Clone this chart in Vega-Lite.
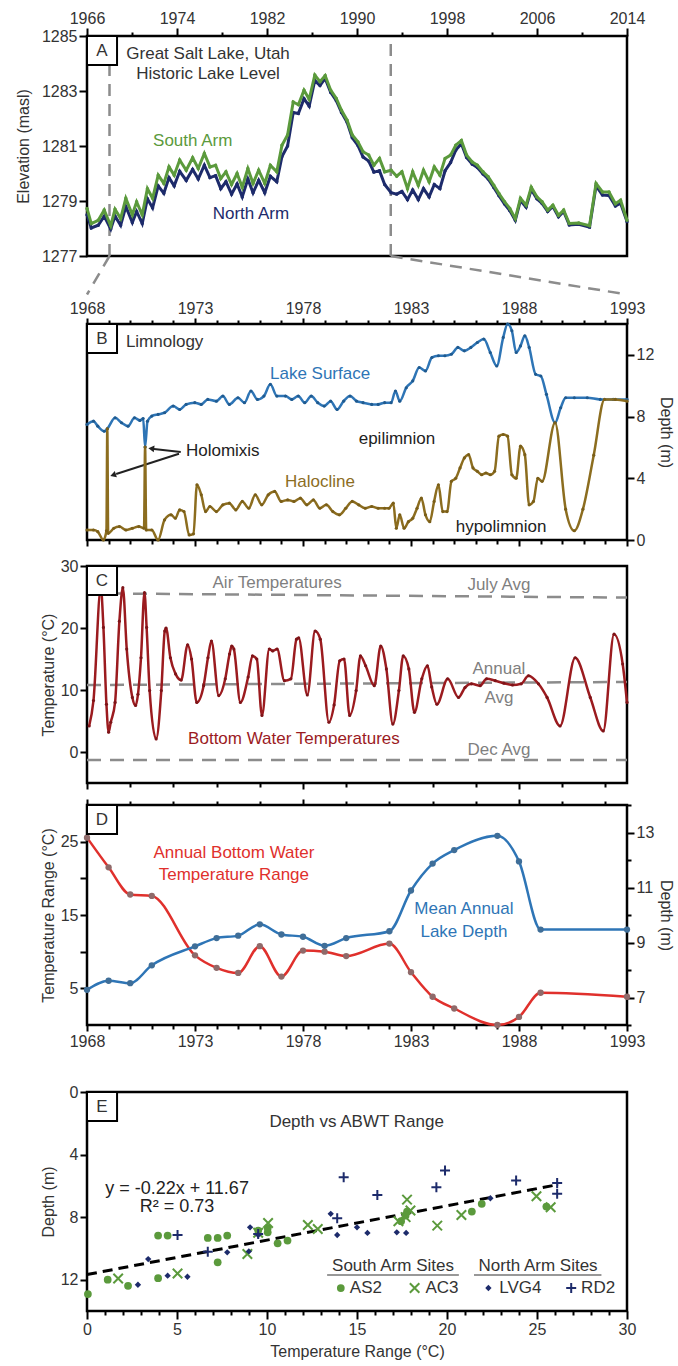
{
"$schema": "https://vega.github.io/schema/vega-lite/v6.json",
"padding": {"left": 14, "top": 8, "right": 2, "bottom": 2},
"background": "white",
"spacing": 0,
"config": {
  "font": "Liberation Sans",
  "view": {"stroke": "black", "strokeWidth": 2.5},
  "axis": {"domain": false, "grid": false, "labelFontSize": 16, "labelColor": "#333", "titleFontSize": 16, "titleFontWeight": "normal", "titleColor": "#333", "tickColor": "black", "tickWidth": 2, "labelOverlap": false, "labelFlush": false, "labelPadding": 2},
  "text": {"fontSize": 16}
},
"datasets": {
  "south": [
{"yr":1966.00,"elev":1278.73},{"yr":1966.38,"elev":1278.18},{"yr":1967.00,"elev":1278.30},{"yr":1967.53,"elev":1278.67},{"yr":1968.11,"elev":1278.10},{"yr":1968.49,"elev":1278.70},{"yr":1968.99,"elev":1278.36},{"yr":1969.45,"elev":1279.10},{"yr":1970.03,"elev":1278.50},{"yr":1970.41,"elev":1278.97},{"yr":1970.91,"elev":1278.50},{"yr":1971.37,"elev":1279.45},{"yr":1971.83,"elev":1279.10},{"yr":1972.33,"elev":1279.94},{"yr":1972.83,"elev":1279.64},{"yr":1973.29,"elev":1280.24},{"yr":1973.75,"elev":1279.94},{"yr":1974.24,"elev":1280.49},{"yr":1974.82,"elev":1280.12},{"yr":1975.39,"elev":1280.57},{"yr":1975.89,"elev":1280.18},{"yr":1976.43,"elev":1280.73},{"yr":1976.93,"elev":1280.24},{"yr":1977.43,"elev":1280.30},{"yr":1977.89,"elev":1279.82},{"yr":1978.35,"elev":1280.06},{"yr":1978.85,"elev":1279.60},{"yr":1979.34,"elev":1280.00},{"yr":1979.80,"elev":1279.50},{"yr":1980.30,"elev":1280.18},{"yr":1980.76,"elev":1279.64},{"yr":1981.26,"elev":1280.12},{"yr":1981.80,"elev":1279.64},{"yr":1982.30,"elev":1280.30},{"yr":1982.87,"elev":1280.06},{"yr":1983.33,"elev":1281.03},{"yr":1983.83,"elev":1281.40},{"yr":1984.33,"elev":1282.60},{"yr":1984.79,"elev":1282.50},{"yr":1985.29,"elev":1283.03},{"yr":1985.75,"elev":1282.70},{"yr":1986.25,"elev":1283.58},{"yr":1986.71,"elev":1283.34},{"yr":1987.17,"elev":1283.56},{"yr":1987.66,"elev":1283.03},{"yr":1988.16,"elev":1282.73},{"yr":1988.62,"elev":1282.30},{"yr":1989.12,"elev":1281.94},{"yr":1989.58,"elev":1281.40},{"yr":1990.08,"elev":1281.15},{"yr":1990.54,"elev":1280.79},{"yr":1991.04,"elev":1280.67},{"yr":1991.50,"elev":1280.30},{"yr":1992.00,"elev":1280.55},{"yr":1992.46,"elev":1280.06},{"yr":1993.03,"elev":1280.12},{"yr":1993.53,"elev":1279.90},{"yr":1993.99,"elev":1280.06},{"yr":1994.49,"elev":1279.45},{"yr":1994.95,"elev":1280.06},{"yr":1995.45,"elev":1279.57},{"yr":1995.91,"elev":1280.12},{"yr":1996.41,"elev":1279.70},{"yr":1996.87,"elev":1280.24},{"yr":1997.37,"elev":1279.94},{"yr":1997.83,"elev":1280.55},{"yr":1998.32,"elev":1280.67},{"yr":1998.78,"elev":1281.03},{"yr":1999.28,"elev":1281.20},{"yr":1999.74,"elev":1280.67},{"yr":2000.24,"elev":1280.42},{"yr":2000.70,"elev":1280.30},{"yr":2001.20,"elev":1280.06},{"yr":2001.66,"elev":1279.88},{"yr":2002.16,"elev":1279.57},{"yr":2002.62,"elev":1279.27},{"yr":2003.12,"elev":1278.97},{"yr":2003.58,"elev":1278.73},{"yr":2004.07,"elev":1278.36},{"yr":2004.53,"elev":1279.10},{"yr":2005.03,"elev":1278.85},{"yr":2005.49,"elev":1279.50},{"yr":2005.99,"elev":1279.15},{"yr":2006.45,"elev":1278.97},{"yr":2006.95,"elev":1278.67},{"yr":2007.41,"elev":1278.85},{"yr":2007.91,"elev":1278.48},{"yr":2008.37,"elev":1278.67},{"yr":2008.87,"elev":1278.18},{"yr":2009.71,"elev":1278.20},{"yr":2010.67,"elev":1278.10},{"yr":2011.25,"elev":1279.64},{"yr":2011.82,"elev":1279.33},{"yr":2012.40,"elev":1279.33},{"yr":2012.97,"elev":1278.90},{"yr":2013.43,"elev":1279.03},{"yr":2014.00,"elev":1278.30}
  ],
  "north": [
{"yr":1966.00,"elev":1278.50},{"yr":1966.38,"elev":1278.02},{"yr":1967.00,"elev":1278.12},{"yr":1967.53,"elev":1278.45},{"yr":1968.11,"elev":1277.98},{"yr":1968.49,"elev":1278.45},{"yr":1968.99,"elev":1278.12},{"yr":1969.45,"elev":1278.80},{"yr":1970.03,"elev":1278.22},{"yr":1970.41,"elev":1278.62},{"yr":1970.91,"elev":1278.18},{"yr":1971.37,"elev":1279.08},{"yr":1971.83,"elev":1278.75},{"yr":1972.33,"elev":1279.55},{"yr":1972.83,"elev":1279.28},{"yr":1973.29,"elev":1279.85},{"yr":1973.75,"elev":1279.55},{"yr":1974.24,"elev":1280.08},{"yr":1974.82,"elev":1279.75},{"yr":1975.39,"elev":1280.15},{"yr":1975.89,"elev":1279.80},{"yr":1976.43,"elev":1280.30},{"yr":1976.93,"elev":1279.85},{"yr":1977.43,"elev":1279.92},{"yr":1977.89,"elev":1279.45},{"yr":1978.35,"elev":1279.70},{"yr":1978.85,"elev":1279.25},{"yr":1979.34,"elev":1279.62},{"yr":1979.80,"elev":1279.15},{"yr":1980.30,"elev":1279.80},{"yr":1980.76,"elev":1279.30},{"yr":1981.26,"elev":1279.75},{"yr":1981.80,"elev":1279.30},{"yr":1982.30,"elev":1279.90},{"yr":1982.87,"elev":1279.70},{"yr":1983.33,"elev":1280.62},{"yr":1983.83,"elev":1281.00},{"yr":1984.33,"elev":1282.22},{"yr":1984.79,"elev":1282.18},{"yr":1985.29,"elev":1282.72},{"yr":1985.75,"elev":1282.45},{"yr":1986.25,"elev":1283.38},{"yr":1986.71,"elev":1283.20},{"yr":1987.17,"elev":1283.46},{"yr":1987.66,"elev":1282.95},{"yr":1988.16,"elev":1282.65},{"yr":1988.62,"elev":1282.22},{"yr":1989.12,"elev":1281.86},{"yr":1989.58,"elev":1281.30},{"yr":1990.08,"elev":1281.02},{"yr":1990.54,"elev":1280.60},{"yr":1991.04,"elev":1280.45},{"yr":1991.50,"elev":1280.05},{"yr":1992.00,"elev":1280.10},{"yr":1992.46,"elev":1279.60},{"yr":1993.03,"elev":1279.30},{"yr":1993.53,"elev":1279.25},{"yr":1993.99,"elev":1279.35},{"yr":1994.49,"elev":1279.05},{"yr":1994.95,"elev":1279.40},{"yr":1995.45,"elev":1279.05},{"yr":1995.91,"elev":1279.45},{"yr":1996.41,"elev":1279.15},{"yr":1996.87,"elev":1279.60},{"yr":1997.37,"elev":1279.45},{"yr":1997.83,"elev":1280.10},{"yr":1998.32,"elev":1280.40},{"yr":1998.78,"elev":1280.85},{"yr":1999.28,"elev":1281.08},{"yr":1999.74,"elev":1280.58},{"yr":2000.24,"elev":1280.34},{"yr":2000.70,"elev":1280.22},{"yr":2001.20,"elev":1279.98},{"yr":2001.66,"elev":1279.80},{"yr":2002.16,"elev":1279.49},{"yr":2002.62,"elev":1279.19},{"yr":2003.12,"elev":1278.89},{"yr":2003.58,"elev":1278.65},{"yr":2004.07,"elev":1278.30},{"yr":2004.53,"elev":1279.02},{"yr":2005.03,"elev":1278.78},{"yr":2005.49,"elev":1279.42},{"yr":2005.99,"elev":1279.08},{"yr":2006.45,"elev":1278.91},{"yr":2006.95,"elev":1278.62},{"yr":2007.41,"elev":1278.80},{"yr":2007.91,"elev":1278.43},{"yr":2008.37,"elev":1278.62},{"yr":2008.87,"elev":1278.13},{"yr":2009.71,"elev":1278.15},{"yr":2010.67,"elev":1278.05},{"yr":2011.25,"elev":1279.55},{"yr":2011.82,"elev":1279.22},{"yr":2012.40,"elev":1279.20},{"yr":2012.97,"elev":1278.82},{"yr":2013.43,"elev":1278.92},{"yr":2014.00,"elev":1278.25}
  ],
  "surface": [
{"yr":1968.00,"depth":7.49},{"yr":1968.30,"depth":7.70},{"yr":1968.50,"depth":7.38},{"yr":1968.80,"depth":7.05},{"yr":1968.94,"depth":7.21},{"yr":1969.30,"depth":7.92},{"yr":1969.60,"depth":7.60},{"yr":1969.90,"depth":7.38},{"yr":1970.20,"depth":7.92},{"yr":1970.45,"depth":7.75},{"yr":1970.60,"depth":7.87},{"yr":1970.69,"depth":6.03},{"yr":1970.80,"depth":7.70},{"yr":1971.00,"depth":8.03},{"yr":1971.29,"depth":8.14},{"yr":1971.59,"depth":8.25},{"yr":1971.99,"depth":8.68},{"yr":1972.29,"depth":8.46},{"yr":1972.59,"depth":8.79},{"yr":1972.99,"depth":8.90},{"yr":1973.29,"depth":8.79},{"yr":1973.59,"depth":9.11},{"yr":1973.99,"depth":9.00},{"yr":1974.29,"depth":9.33},{"yr":1974.59,"depth":8.79},{"yr":1974.99,"depth":9.22},{"yr":1975.29,"depth":8.90},{"yr":1975.59,"depth":9.66},{"yr":1975.89,"depth":9.11},{"yr":1976.19,"depth":9.33},{"yr":1976.49,"depth":10.09},{"yr":1976.79,"depth":9.33},{"yr":1977.19,"depth":9.33},{"yr":1977.48,"depth":9.11},{"yr":1977.78,"depth":9.33},{"yr":1978.08,"depth":8.90},{"yr":1978.38,"depth":9.33},{"yr":1978.68,"depth":8.90},{"yr":1978.98,"depth":8.68},{"yr":1979.28,"depth":9.00},{"yr":1979.58,"depth":8.46},{"yr":1979.88,"depth":9.00},{"yr":1980.18,"depth":9.33},{"yr":1980.48,"depth":9.00},{"yr":1980.78,"depth":8.90},{"yr":1981.18,"depth":8.79},{"yr":1981.48,"depth":8.79},{"yr":1981.78,"depth":8.90},{"yr":1982.08,"depth":8.90},{"yr":1982.28,"depth":9.66},{"yr":1982.48,"depth":9.00},{"yr":1982.78,"depth":9.87},{"yr":1983.08,"depth":10.31},{"yr":1983.38,"depth":11.18},{"yr":1983.67,"depth":10.96},{"yr":1983.97,"depth":11.83},{"yr":1984.27,"depth":11.94},{"yr":1984.57,"depth":11.94},{"yr":1984.87,"depth":12.04},{"yr":1985.17,"depth":12.48},{"yr":1985.47,"depth":12.26},{"yr":1985.77,"depth":12.48},{"yr":1986.07,"depth":12.80},{"yr":1986.37,"depth":13.02},{"yr":1986.67,"depth":12.15},{"yr":1986.97,"depth":11.28},{"yr":1987.27,"depth":13.13},{"yr":1987.47,"depth":14.00},{"yr":1987.67,"depth":13.56},{"yr":1987.87,"depth":12.15},{"yr":1988.07,"depth":12.58},{"yr":1988.27,"depth":13.24},{"yr":1988.47,"depth":12.48},{"yr":1988.77,"depth":10.74},{"yr":1989.01,"depth":10.63},{"yr":1989.27,"depth":9.44},{"yr":1989.67,"depth":7.60},{"yr":1989.93,"depth":8.57},{"yr":1990.16,"depth":9.22},{"yr":1990.56,"depth":9.22},{"yr":1991.16,"depth":9.22},{"yr":1991.76,"depth":9.11},{"yr":1992.36,"depth":9.11},{"yr":1993.00,"depth":9.11}
  ],
  "halocline": [
{"yr":1968.00,"depth":0.65},{"yr":1968.30,"depth":0.65},{"yr":1968.50,"depth":0.54},{"yr":1968.76,"depth":0.0},{"yr":1968.90,"depth":0.6},{"yr":1968.94,"depth":7.21},{"yr":1968.98,"depth":0.43},{"yr":1969.24,"depth":0.76},{"yr":1969.50,"depth":0.87},{"yr":1969.80,"depth":0.65},{"yr":1970.10,"depth":0.76},{"yr":1970.40,"depth":0.87},{"yr":1970.64,"depth":0.76},{"yr":1970.69,"depth":6.03},{"yr":1970.74,"depth":0.65},{"yr":1971.00,"depth":0.65},{"yr":1971.29,"depth":0.0},{"yr":1971.59,"depth":1.30},{"yr":1971.89,"depth":1.63},{"yr":1972.09,"depth":1.41},{"yr":1972.29,"depth":1.95},{"yr":1972.49,"depth":1.84},{"yr":1972.73,"depth":0.33},{"yr":1972.93,"depth":0.40},{"yr":1973.09,"depth":3.58},{"yr":1973.29,"depth":2.93},{"yr":1973.49,"depth":1.84},{"yr":1973.69,"depth":2.17},{"yr":1973.99,"depth":1.84},{"yr":1974.29,"depth":2.28},{"yr":1974.59,"depth":2.39},{"yr":1974.89,"depth":1.95},{"yr":1975.19,"depth":2.50},{"yr":1975.49,"depth":2.06},{"yr":1975.79,"depth":2.93},{"yr":1976.09,"depth":2.28},{"yr":1976.39,"depth":2.93},{"yr":1976.69,"depth":3.15},{"yr":1976.99,"depth":2.50},{"yr":1977.29,"depth":2.60},{"yr":1977.58,"depth":2.50},{"yr":1977.88,"depth":2.71},{"yr":1978.18,"depth":2.28},{"yr":1978.48,"depth":2.60},{"yr":1978.78,"depth":2.06},{"yr":1979.08,"depth":2.28},{"yr":1979.38,"depth":1.84},{"yr":1979.68,"depth":1.63},{"yr":1979.98,"depth":2.06},{"yr":1980.28,"depth":2.50},{"yr":1980.58,"depth":2.28},{"yr":1980.88,"depth":2.06},{"yr":1981.18,"depth":2.17},{"yr":1981.48,"depth":2.06},{"yr":1981.78,"depth":2.06},{"yr":1981.98,"depth":2.06},{"yr":1982.18,"depth":2.39},{"yr":1982.32,"depth":0.76},{"yr":1982.48,"depth":1.63},{"yr":1982.68,"depth":0.76},{"yr":1982.88,"depth":1.19},{"yr":1983.08,"depth":1.41},{"yr":1983.28,"depth":2.06},{"yr":1983.48,"depth":2.71},{"yr":1983.67,"depth":1.63},{"yr":1983.87,"depth":1.19},{"yr":1984.07,"depth":2.50},{"yr":1984.27,"depth":3.58},{"yr":1984.47,"depth":1.84},{"yr":1984.67,"depth":1.84},{"yr":1984.87,"depth":3.80},{"yr":1985.07,"depth":4.00},{"yr":1985.27,"depth":4.67},{"yr":1985.47,"depth":5.32},{"yr":1985.67,"depth":5.53},{"yr":1985.87,"depth":4.67},{"yr":1986.07,"depth":4.45},{"yr":1986.27,"depth":4.23},{"yr":1986.47,"depth":4.34},{"yr":1986.67,"depth":4.23},{"yr":1986.87,"depth":4.45},{"yr":1987.07,"depth":6.73},{"yr":1987.27,"depth":6.84},{"yr":1987.47,"depth":6.73},{"yr":1987.67,"depth":4.23},{"yr":1987.87,"depth":4.00},{"yr":1988.07,"depth":6.08},{"yr":1988.27,"depth":5.53},{"yr":1988.47,"depth":2.28},{"yr":1988.67,"depth":2.50},{"yr":1988.87,"depth":4.00},{"yr":1989.07,"depth":3.80},{"yr":1989.67,"depth":7.60},{"yr":1990.16,"depth":2.0},{"yr":1990.56,"depth":0.60},{"yr":1990.96,"depth":2.0},{"yr":1991.46,"depth":5.5},{"yr":1991.96,"depth":9.11},{"yr":1992.46,"depth":9.11},{"yr":1993.00,"depth":9.00}
  ],
  "bwt": [
{"yr":1968.10,"temp":4.2},{"yr":1968.30,"temp":8.3},{"yr":1968.64,"temp":26.5},{"yr":1968.76,"temp":20.1},{"yr":1968.90,"temp":7.7},{"yr":1969.00,"temp":3.2},{"yr":1969.10,"temp":4.8},{"yr":1969.30,"temp":8.0},{"yr":1969.50,"temp":21.1},{"yr":1969.66,"temp":26.5},{"yr":1969.84,"temp":16.6},{"yr":1970.10,"temp":8.8},{"yr":1970.25,"temp":7.5},{"yr":1970.36,"temp":9.3},{"yr":1970.50,"temp":15.2},{"yr":1970.66,"temp":25.7},{"yr":1970.76,"temp":20.1},{"yr":1970.90,"temp":9.9},{"yr":1971.20,"temp":2.1},{"yr":1971.44,"temp":9.9},{"yr":1971.60,"temp":19.5},{"yr":1971.66,"temp":20.0},{"yr":1971.86,"temp":15.2},{"yr":1972.10,"temp":12.6},{"yr":1972.36,"temp":11.6},{"yr":1972.66,"temp":17.3},{"yr":1972.84,"temp":15.0},{"yr":1973.08,"temp":8.0},{"yr":1973.40,"temp":10.7},{"yr":1973.60,"temp":15.2},{"yr":1973.76,"temp":17.9},{"yr":1974.10,"temp":9.1},{"yr":1974.40,"temp":11.8},{"yr":1974.60,"temp":15.8},{"yr":1974.70,"temp":17.1},{"yr":1974.80,"temp":16.6},{"yr":1975.10,"temp":8.0},{"yr":1975.46,"temp":12.1},{"yr":1975.66,"temp":15.5},{"yr":1975.86,"temp":15.0},{"yr":1976.10,"temp":5.9},{"yr":1976.44,"temp":16.6},{"yr":1976.60,"temp":16.3},{"yr":1976.80,"temp":16.6},{"yr":1977.14,"temp":11.5},{"yr":1977.44,"temp":11.8},{"yr":1977.70,"temp":18.2},{"yr":1977.80,"temp":18.4},{"yr":1978.20,"temp":9.2},{"yr":1978.56,"temp":19.5},{"yr":1978.80,"temp":18.2},{"yr":1979.20,"temp":4.8},{"yr":1979.44,"temp":7.6},{"yr":1979.70,"temp":14.7},{"yr":1979.90,"temp":15.0},{"yr":1980.16,"temp":5.9},{"yr":1980.46,"temp":9.9},{"yr":1980.66,"temp":15.5},{"yr":1980.90,"temp":13.9},{"yr":1981.30,"temp":10.7},{"yr":1981.60,"temp":17.1},{"yr":1981.86,"temp":13.4},{"yr":1982.16,"temp":4.5},{"yr":1982.44,"temp":9.9},{"yr":1982.64,"temp":15.5},{"yr":1982.90,"temp":13.4},{"yr":1983.16,"temp":6.4},{"yr":1983.50,"temp":11.8},{"yr":1983.76,"temp":13.9},{"yr":1983.96,"temp":10.5},{"yr":1984.20,"temp":7.7},{"yr":1984.70,"temp":11.8},{"yr":1985.20,"temp":8.8},{"yr":1985.50,"temp":10.4},{"yr":1985.80,"temp":11.0},{"yr":1986.20,"temp":10.7},{"yr":1986.50,"temp":11.8},{"yr":1986.90,"temp":11.5},{"yr":1987.30,"temp":11.1},{"yr":1987.70,"temp":10.8},{"yr":1988.10,"temp":11.0},{"yr":1988.44,"temp":12.3},{"yr":1988.90,"temp":11.0},{"yr":1989.30,"temp":8.8},{"yr":1989.90,"temp":4.2},{"yr":1990.60,"temp":15.2},{"yr":1991.30,"temp":8.8},{"yr":1991.90,"temp":3.4},{"yr":1992.40,"temp":19.0},{"yr":1992.80,"temp":14.2},{"yr":1993.00,"temp":8.0}
  ],
  "airavg": [
{"series":"July Avg","yr":1968,"temp":25.6},{"series":"July Avg","yr":1993,"temp":24.9},{"series":"Annual Avg","yr":1968,"temp":10.8},{"series":"Annual Avg","yr":1993,"temp":11.3},{"series":"Dec Avg","yr":1968,"temp":-1.3},{"series":"Dec Avg","yr":1993,"temp":-1.3}
  ],
  "abwt": [
{"yr":1968,"range":25.55},{"yr":1969,"range":21.5},{"yr":1970,"range":17.8},{"yr":1971,"range":17.6},{"yr":1973,"range":9.5},{"yr":1974,"range":7.8},{"yr":1975,"range":7.1},{"yr":1976,"range":10.75},{"yr":1977,"range":6.6},{"yr":1978,"range":10.15},{"yr":1979,"range":10.0},{"yr":1980,"range":9.4},{"yr":1982,"range":11.1},{"yr":1983,"range":7.2},{"yr":1984,"range":3.85},{"yr":1985,"range":2.25},{"yr":1987,"range":0.0},{"yr":1988,"range":1.1},{"yr":1989,"range":4.4},{"yr":1993,"range":3.85}
  ],
  "meandepth": [
{"yr":1968,"depth":7.28},{"yr":1969,"depth":7.61},{"yr":1970,"depth":7.52},{"yr":1971,"depth":8.17},{"yr":1973,"depth":8.86},{"yr":1974,"depth":9.16},{"yr":1975,"depth":9.25},{"yr":1976,"depth":9.66},{"yr":1977,"depth":9.29},{"yr":1978,"depth":9.21},{"yr":1979,"depth":8.88},{"yr":1980,"depth":9.16},{"yr":1982,"depth":9.41},{"yr":1983,"depth":10.89},{"yr":1984,"depth":11.87},{"yr":1985,"depth":12.36},{"yr":1987,"depth":12.88},{"yr":1988,"depth":11.95},{"yr":1989,"depth":9.47},{"yr":1993,"depth":9.47}
  ],
  "sites": [
{"site":"AS2","temp":0.05,"depth":12.92},{"site":"AS2","temp":1.15,"depth":12.0},{"site":"AS2","temp":2.28,"depth":12.39},{"site":"AS2","temp":3.95,"depth":9.18},{"site":"AS2","temp":4.48,"depth":9.18},{"site":"AS2","temp":3.95,"depth":11.9},{"site":"AS2","temp":6.71,"depth":9.33},{"site":"AS2","temp":7.26,"depth":9.33},{"site":"AS2","temp":7.79,"depth":9.18},{"site":"AS2","temp":7.26,"depth":10.89},{"site":"AS2","temp":9.51,"depth":8.86},{"site":"AS2","temp":10.04,"depth":8.97},{"site":"AS2","temp":10.59,"depth":9.67},{"site":"AS2","temp":11.14,"depth":9.5},{"site":"AS2","temp":17.45,"depth":8.26},{"site":"AS2","temp":17.78,"depth":7.64},{"site":"AS2","temp":21.38,"depth":7.64},{"site":"AS2","temp":21.93,"depth":7.15},{"site":"AS2","temp":25.52,"depth":7.32},{"site":"AS2","temp":10.04,"depth":8.7},{"site":"AS2","temp":17.7,"depth":7.9},
{"site":"AC3","temp":1.73,"depth":11.92},{"site":"AC3","temp":5.03,"depth":11.6},{"site":"AC3","temp":8.91,"depth":10.36},{"site":"AC3","temp":10.06,"depth":8.37},{"site":"AC3","temp":12.27,"depth":8.5},{"site":"AC3","temp":12.82,"depth":8.76},{"site":"AC3","temp":17.3,"depth":8.26},{"site":"AC3","temp":17.78,"depth":6.88},{"site":"AC3","temp":17.97,"depth":7.58},{"site":"AC3","temp":19.46,"depth":8.54},{"site":"AC3","temp":20.8,"depth":7.86},{"site":"AC3","temp":24.97,"depth":6.66},{"site":"AC3","temp":25.76,"depth":7.37},{"site":"AC3","temp":9.51,"depth":9.0},{"site":"AC3","temp":17.7,"depth":8.0},
{"site":"LVG4","temp":2.83,"depth":12.32},{"site":"LVG4","temp":3.4,"depth":10.68},{"site":"LVG4","temp":4.48,"depth":11.74},{"site":"LVG4","temp":5.58,"depth":11.81},{"site":"LVG4","temp":7.79,"depth":10.25},{"site":"LVG4","temp":9.06,"depth":8.65},{"site":"LVG4","temp":8.99,"depth":10.19},{"site":"LVG4","temp":9.51,"depth":9.14},{"site":"LVG4","temp":13.54,"depth":7.79},{"site":"LVG4","temp":13.9,"depth":9.14},{"site":"LVG4","temp":15.0,"depth":8.65},{"site":"LVG4","temp":15.58,"depth":9.01},{"site":"LVG4","temp":17.21,"depth":8.97},{"site":"LVG4","temp":17.73,"depth":9.01},{"site":"LVG4","temp":22.41,"depth":6.79},
{"site":"RD2","temp":5.03,"depth":9.14},{"site":"RD2","temp":6.71,"depth":10.21},{"site":"RD2","temp":9.51,"depth":9.08},{"site":"RD2","temp":13.9,"depth":8.07},{"site":"RD2","temp":14.26,"depth":5.45},{"site":"RD2","temp":16.13,"depth":6.58},{"site":"RD2","temp":19.41,"depth":6.09},{"site":"RD2","temp":19.89,"depth":5.02},{"site":"RD2","temp":23.84,"depth":5.66},{"site":"RD2","temp":26.12,"depth":5.81},{"site":"RD2","temp":26.12,"depth":6.51}
  ]
},
"vconcat": [
{
  "width": 540, "height": 220,
  "layer": [
    {"data": {"values": [{}]}, "mark": {"type": "rule", "color": "#8c8c8c", "strokeWidth": 2.5, "strokeDash": [12, 8]},
     "encoding": {"x": {"datum": 1968}, "y": {"datum": 1277}, "y2": {"datum": 1285}}},
    {"data": {"values": [{}]}, "mark": {"type": "rule", "color": "#8c8c8c", "strokeWidth": 2.5, "strokeDash": [12, 8]},
     "encoding": {"x": {"datum": 1993}, "y": {"datum": 1277}, "y2": {"datum": 1285}}},
    {"data": {"values": [{}]}, "mark": {"type": "rule", "color": "#8c8c8c", "strokeWidth": 2.5, "strokeDash": [12, 8]},
     "encoding": {"x": {"datum": 1968}, "x2": {"datum": 1966}, "y": {"datum": 1277}, "y2": {"datum": 1275.6}}},
    {"data": {"values": [{}]}, "mark": {"type": "rule", "color": "#8c8c8c", "strokeWidth": 2.5, "strokeDash": [12, 8]},
     "encoding": {"x": {"datum": 1993}, "x2": {"datum": 2014}, "y": {"datum": 1277}, "y2": {"datum": 1275.6}}},
    {"data": {"name": "north"}, "mark": {"type": "line", "color": "#1d2b6b", "strokeWidth": 3, "point": {"filled": true, "size": 12, "color": "#1d2b6b"}},
     "encoding": {
       "x": {"field": "yr", "type": "quantitative", "scale": {"domain": [1966, 2014], "nice": false, "zero": false},
             "axis": {"orient": "top", "title": null, "format": "d", "labelOverlap": false, "values": [1966,1967,1968,1969,1970,1971,1972,1973,1974,1975,1976,1977,1978,1979,1980,1981,1982,1983,1984,1985,1986,1987,1988,1989,1990,1991,1992,1993,1994,1995,1996,1997,1998,1999,2000,2001,2002,2003,2004,2005,2006,2007,2008,2009,2010,2011,2012,2013,2014],
                      "labelExpr": "datum.value % 8 == 6 ? datum.label : ''",
                      "tickSize": {"condition": {"test": "datum.value % 8 == 6", "value": 8}, "value": 4}}},
       "y": {"field": "elev", "type": "quantitative", "scale": {"domain": [1277, 1285], "nice": false, "zero": false},
             "axis": {"orient": "left", "title": "Elevation (masl)", "titlePadding": 10, "format": "d", "labelOverlap": false, "values": [1277,1278,1279,1280,1281,1282,1283,1284,1285],
                      "labelExpr": "datum.value % 2 == 1 ? datum.label : ''",
                      "tickSize": {"condition": {"test": "datum.value % 2 == 1", "value": 8}, "value": 5}}}
     }},
    {"data": {"name": "south"}, "mark": {"type": "line", "color": "#5b9a3c", "strokeWidth": 3, "point": {"filled": true, "size": 12, "color": "#5b9a3c"}},
     "encoding": {"x": {"field": "yr", "type": "quantitative"}, "y": {"field": "elev", "type": "quantitative"}}},
    {"data": {"values": [{}]}, "mark": {"type": "rect", "fill": "white", "stroke": "black", "strokeWidth": 2},
     "encoding": {"x": {"datum": 1966}, "x2": {"datum": 1968.67}, "y": {"datum": 1285}, "y2": {"datum": 1283.95}}},
    {"data": {"values": [{}]}, "mark": {"type": "text", "color": "#333", "fontSize": 17},
     "encoding": {"x": {"datum": 1967.33}, "y": {"datum": 1284.47}, "text": {"value": "A"}}},
    {"data": {"values": [{}]}, "mark": {"type": "text", "color": "#333", "fontSize": 17},
     "encoding": {"x": {"datum": 1976.76}, "y": {"datum": 1284.35}, "text": {"value": "Great Salt Lake, Utah"}}},
    {"data": {"values": [{}]}, "mark": {"type": "text", "color": "#333", "fontSize": 17},
     "encoding": {"x": {"datum": 1976.76}, "y": {"datum": 1283.62}, "text": {"value": "Historic Lake Level"}}},
    {"data": {"values": [{}]}, "mark": {"type": "text", "color": "#5b9a3c", "fontSize": 17},
     "encoding": {"x": {"datum": 1975.4}, "y": {"datum": 1281.18}, "text": {"value": "South Arm"}}},
    {"data": {"values": [{}]}, "mark": {"type": "text", "color": "#1d2b6b", "fontSize": 17},
     "encoding": {"x": {"datum": 1980.57}, "y": {"datum": 1278.53}, "text": {"value": "North Arm"}}}
  ]
},
{
  "width": 540, "height": 216,
  "resolve": {"axis": {"x": "independent"}},
  "layer": [
    {"layer": [
      {"data": {"name": "surface"}, "mark": {"type": "line", "color": "#2e75b6", "strokeWidth": 2.5, "interpolate": "monotone", "point": {"filled": true, "size": 10, "color": "#1f5a8f"}},
       "encoding": {
         "x": {"field": "yr", "type": "quantitative", "scale": {"domain": [1968, 1993], "nice": false, "zero": false},
               "axis": {"orient": "top", "title": null, "format": "d", "labelPadding": 2, "labelOverlap": false, "values": [1968,1973,1978,1983,1988,1993], "tickSize": 6}},
         "y": {"field": "depth", "type": "quantitative", "scale": {"domain": [0, 14], "nice": false, "zero": false},
               "axis": {"orient": "right", "title": "Depth (m)", "titlePadding": 4, "labelOverlap": false, "values": [0,1,2,3,4,5,6,7,8,9,10,11,12,13,14],
                        "labelExpr": "datum.value % 4 == 0 ? datum.label : ''",
                        "tickSize": {"condition": {"test": "datum.value % 4 == 0", "value": 7}, "value": 4}}}
       }},
      {"data": {"values": [{}]}, "mark": {"type": "rect", "fill": "white", "stroke": "black", "strokeWidth": 2},
       "encoding": {"x": {"datum": 1968}, "x2": {"datum": 1969.39}, "y": {"datum": 14}, "y2": {"datum": 12.12}}},
      {"data": {"values": [{}]}, "mark": {"type": "text", "color": "#333", "fontSize": 17},
       "encoding": {"x": {"datum": 1968.69}, "y": {"datum": 13.06}, "text": {"value": "B"}}},
      {"data": {"values": [{}]}, "mark": {"type": "text", "color": "#333", "fontSize": 17, "align": "left"},
       "encoding": {"x": {"datum": 1969.8}, "y": {"datum": 12.83}, "text": {"value": "Limnology"}}},
      {"data": {"values": [{}]}, "mark": {"type": "text", "color": "#2e75b6", "fontSize": 17},
       "encoding": {"x": {"datum": 1978.79}, "y": {"datum": 10.76}, "text": {"value": "Lake Surface"}}},
      {"data": {"values": [{}]}, "mark": {"type": "text", "color": "#222", "fontSize": 17},
       "encoding": {"x": {"datum": 1982.35}, "y": {"datum": 6.55}, "text": {"value": "epilimnion"}}},
      {"data": {"values": [{}]}, "mark": {"type": "text", "color": "#222", "fontSize": 17, "align": "left"},
       "encoding": {"x": {"datum": 1972.58}, "y": {"datum": 5.77}, "text": {"value": "Holomixis"}}},
      {"data": {"values": [{}]}, "mark": {"type": "text", "color": "#8c6d1f", "fontSize": 17},
       "encoding": {"x": {"datum": 1978.79}, "y": {"datum": 3.76}, "text": {"value": "Halocline"}}},
      {"data": {"values": [{}]}, "mark": {"type": "text", "color": "#222", "fontSize": 17},
       "encoding": {"x": {"datum": 1987.17}, "y": {"datum": 0.84}, "text": {"value": "hypolimnion"}}},
      {"data": {"values": [{}]}, "mark": {"type": "rule", "color": "#222", "strokeWidth": 2},
       "encoding": {"x": {"datum": 1972.34}, "x2": {"datum": 1971.1}, "y": {"datum": 5.70}, "y2": {"datum": 5.9}}},
      {"data": {"values": [{}]}, "mark": {"type": "rule", "color": "#222", "strokeWidth": 2},
       "encoding": {"x": {"datum": 1972.26}, "x2": {"datum": 1969.35}, "y": {"datum": 5.59}, "y2": {"datum": 4.28}}},
      {"data": {"values": [{}]}, "mark": {"type": "point", "shape": "triangle", "filled": true, "color": "#222", "size": 45, "angle": 276.6, "opacity": 1},
       "encoding": {"x": {"datum": 1971.02}, "y": {"datum": 5.92}}},
      {"data": {"values": [{}]}, "mark": {"type": "point", "shape": "triangle", "filled": true, "color": "#222", "size": 45, "angle": 252.1, "opacity": 1},
       "encoding": {"x": {"datum": 1969.25}, "y": {"datum": 4.23}}}
    ]},
    {"layer": [
      {"data": {"name": "halocline"}, "mark": {"type": "line", "color": "#8c6d1f", "strokeWidth": 2.5, "interpolate": "monotone", "point": {"filled": true, "size": 10, "color": "#7a5e18"}},
       "encoding": {
         "x": {"field": "yr", "type": "quantitative", "scale": {"domain": [1968, 1993], "nice": false, "zero": false},
               "axis": {"orient": "bottom", "labels": false, "title": ".", "titleColor": "transparent", "titleFontSize": 2, "titlePadding": 5, "values": [1968,1969,1970,1971,1972,1973,1974,1975,1976,1977,1978,1979,1980,1981,1982,1983,1984,1985,1986,1987,1988,1989,1990,1991,1992,1993],
                        "tickSize": {"condition": {"test": "datum.value % 5 == 3", "value": 6}, "value": 4}}},
         "y": {"field": "depth", "type": "quantitative", "scale": {"domain": [0, 14], "nice": false, "zero": false},
               "axis": {"orient": "right", "title": "Depth (m)", "titlePadding": 4, "labelOverlap": false, "values": [0,1,2,3,4,5,6,7,8,9,10,11,12,13,14],
                        "labelExpr": "datum.value % 4 == 0 ? datum.label : ''",
                        "tickSize": {"condition": {"test": "datum.value % 4 == 0", "value": 7}, "value": 4}}}
       }}
    ]},
    {"layer": [
      {"data": {"name": "surface"}, "mark": {"type": "point", "opacity": 0},
       "encoding": {
         "x": {"field": "yr", "type": "quantitative", "scale": {"domain": [1968, 1993], "nice": false, "zero": false},
               "axis": {"orient": "top", "labels": false, "title": null, "tickSize": 4, "values": [1969,1970,1971,1972,1974,1975,1976,1977,1979,1980,1981,1982,1984,1985,1986,1987,1989,1990,1991,1992]}}
       }}
    ]}
  ]
},
{
  "width": 540, "height": 217,
  "layer": [
    {"data": {"name": "airavg"}, "mark": {"type": "line", "color": "#8c8c8c", "strokeWidth": 2.5, "strokeDash": [14, 9]},
     "encoding": {"x": {"field": "yr", "type": "quantitative"}, "y": {"field": "temp", "type": "quantitative"}, "detail": {"field": "series"}}},
    {"data": {"name": "bwt"}, "mark": {"type": "line", "color": "#9b1b1f", "strokeWidth": 2.5, "interpolate": "monotone", "point": {"filled": true, "size": 10, "color": "#7d1418"}},
     "encoding": {
       "x": {"field": "yr", "type": "quantitative", "scale": {"domain": [1968, 1993], "nice": false, "zero": false},
             "axis": {"orient": "bottom", "labels": false, "title": ".", "titleColor": "transparent", "titleFontSize": 2, "titlePadding": 2, "values": [1968,1969,1970,1971,1972,1973,1974,1975,1976,1977,1978,1979,1980,1981,1982,1983,1984,1985,1986,1987,1988,1989,1990,1991,1992,1993],
                      "tickSize": {"condition": {"test": "datum.value % 5 == 3", "value": 6}, "value": 4}}},
       "y": {"field": "temp", "type": "quantitative", "scale": {"domain": [-5, 30], "nice": false, "zero": false},
             "axis": {"orient": "left", "title": "Temperature (°C)", "labelOverlap": false, "values": [0, 10, 20, 30], "tickSize": 7}}
     }},
    {"data": {"values": [{}]}, "mark": {"type": "rect", "fill": "white", "stroke": "black", "strokeWidth": 2},
     "encoding": {"x": {"datum": 1968}, "x2": {"datum": 1969.39}, "y": {"datum": 30}, "y2": {"datum": 25.32}}},
    {"data": {"values": [{}]}, "mark": {"type": "text", "color": "#333", "fontSize": 17},
     "encoding": {"x": {"datum": 1968.69}, "y": {"datum": 27.66}, "text": {"value": "C"}}},
    {"data": {"values": [{}]}, "mark": {"type": "text", "color": "#7f7f7f", "fontSize": 17},
     "encoding": {"x": {"datum": 1976.8}, "y": {"datum": 27.3}, "text": {"value": "Air Temperatures"}}},
    {"data": {"values": [{}]}, "mark": {"type": "text", "color": "#7f7f7f", "fontSize": 17},
     "encoding": {"x": {"datum": 1987.07}, "y": {"datum": 26.9}, "text": {"value": "July Avg"}}},
    {"data": {"values": [{}]}, "mark": {"type": "text", "color": "#7f7f7f", "fontSize": 17},
     "encoding": {"x": {"datum": 1987.07}, "y": {"datum": 13.4}, "text": {"value": "Annual"}}},
    {"data": {"values": [{}]}, "mark": {"type": "text", "color": "#7f7f7f", "fontSize": 17},
     "encoding": {"x": {"datum": 1987.07}, "y": {"datum": 8.7}, "text": {"value": "Avg"}}},
    {"data": {"values": [{}]}, "mark": {"type": "text", "color": "#9b1b1f", "fontSize": 17},
     "encoding": {"x": {"datum": 1977.58}, "y": {"datum": 2.1}, "text": {"value": "Bottom Water Temperatures"}}},
    {"data": {"values": [{}]}, "mark": {"type": "text", "color": "#7f7f7f", "fontSize": 17},
     "encoding": {"x": {"datum": 1987.07}, "y": {"datum": 0.4}, "text": {"value": "Dec Avg"}}}
  ]
},
{
  "width": 540, "height": 220,
  "resolve": {"scale": {"y": "independent"}, "axis": {"x": "independent", "y": "independent"}},
  "layer": [
    {"layer": [
      {"data": {"name": "abwt"}, "mark": {"type": "line", "color": "#e0302c", "strokeWidth": 2.5, "interpolate": "monotone", "point": {"filled": true, "size": 40, "color": "#8f6a6a"}},
       "encoding": {
         "x": {"field": "yr", "type": "quantitative", "scale": {"domain": [1968, 1993], "nice": false, "zero": false},
               "axis": {"orient": "bottom", "title": ".", "titleColor": "transparent", "titleFontSize": 2, "titlePadding": 29, "format": "d", "labelOverlap": false, "values": [1968,1973,1978,1983,1988,1993], "tickSize": 6}},
         "y": {"field": "range", "type": "quantitative", "scale": {"domain": [0, 30], "nice": false, "zero": false},
               "axis": {"orient": "left", "title": "Temperature Range (°C)", "labelOverlap": false, "values": [5, 10, 15, 20, 25],
                        "labelExpr": "datum.value % 10 == 5 ? datum.label : ''", "tickSize": 7}}
       }},
      {"data": {"values": [{}]}, "mark": {"type": "rect", "fill": "white", "stroke": "black", "strokeWidth": 2},
       "encoding": {"x": {"datum": 1968}, "x2": {"datum": 1969.39}, "y": {"datum": 30}, "y2": {"datum": 26.05}}},
      {"data": {"values": [{}]}, "mark": {"type": "text", "color": "#333", "fontSize": 17},
       "encoding": {"x": {"datum": 1968.69}, "y": {"datum": 28.02}, "text": {"value": "D"}}},
      {"data": {"values": [{}]}, "mark": {"type": "text", "color": "#e0302c", "fontSize": 17},
       "encoding": {"x": {"datum": 1974.8}, "y": {"datum": 23.45}, "text": {"value": "Annual Bottom Water"}}},
      {"data": {"values": [{}]}, "mark": {"type": "text", "color": "#e0302c", "fontSize": 17},
       "encoding": {"x": {"datum": 1974.8}, "y": {"datum": 20.45}, "text": {"value": "Temperature Range"}}}
    ]},
    {"layer": [
      {"data": {"name": "meandepth"}, "mark": {"type": "line", "color": "#2e75b6", "strokeWidth": 2.5, "interpolate": "monotone", "point": {"filled": true, "size": 40, "color": "#3f6e98"}},
       "encoding": {
         "x": {"field": "yr", "type": "quantitative", "scale": {"domain": [1968, 1993], "nice": false, "zero": false},
               "axis": {"orient": "top", "labels": false, "title": null, "values": [1968,1969,1970,1971,1972,1973,1974,1975,1976,1977,1978,1979,1980,1981,1982,1983,1984,1985,1986,1987,1988,1989,1990,1991,1992,1993],
                        "tickSize": {"condition": {"test": "datum.value % 5 == 3", "value": 6}, "value": 4}}},
         "y": {"field": "depth", "type": "quantitative", "scale": {"domain": [6, 14], "nice": false, "zero": false},
               "axis": {"orient": "right", "title": "Depth (m)", "titlePadding": 4, "labelOverlap": false, "values": [7, 9, 11, 13], "tickSize": 7}}
       }},
      {"data": {"values": [{}]}, "mark": {"type": "text", "color": "#2e75b6", "fontSize": 17},
       "encoding": {"x": {"datum": 1985.45}, "y": {"datum": 10.22}, "text": {"value": "Mean Annual"}}},
      {"data": {"values": [{}]}, "mark": {"type": "text", "color": "#2e75b6", "fontSize": 17},
       "encoding": {"x": {"datum": 1985.45}, "y": {"datum": 9.38}, "text": {"value": "Lake Depth"}}}
    ]},
    {"layer": [
      {"data": {"name": "meandepth"}, "mark": {"type": "point", "opacity": 0},
       "encoding": {
         "x": {"field": "yr", "type": "quantitative", "scale": {"domain": [1968, 1993], "nice": false, "zero": false},
               "axis": {"orient": "bottom", "labels": false, "title": null, "tickSize": 4, "values": [1969,1970,1971,1972,1974,1975,1976,1977,1979,1980,1981,1982,1984,1985,1986,1987,1989,1990,1991,1992]}},
         "y": {"field": "depth", "type": "quantitative", "scale": {"domain": [6, 14], "nice": false, "zero": false},
               "axis": {"orient": "right", "labels": false, "title": null, "tickSize": 4, "values": [6, 8, 10, 12, 14]}}
       }}
    ]}
  ]
},
{
  "width": 540, "height": 219,
  "resolve": {"axis": {"x": "independent"}},
  "layer": [
   {"layer": [
    {"data": {"values": [{}]}, "mark": {"type": "rule", "color": "black", "strokeWidth": 3, "strokeDash": [10, 6]},
     "encoding": {"x": {"datum": 0}, "x2": {"datum": 26.2}, "y": {"datum": 11.67}, "y2": {"datum": 5.91}}},
    {"data": {"name": "sites"}, "transform": [{"filter": "datum.site === 'AS2'"}],
     "mark": {"type": "point", "shape": "circle", "filled": true, "color": "#5b9a3c", "size": 60, "opacity": 1},
     "encoding": {
       "x": {"field": "temp", "type": "quantitative", "scale": {"domain": [0, 30], "nice": false, "zero": false},
             "axis": {"orient": "bottom", "title": "Temperature Range (°C)", "titlePadding": 6, "labelOverlap": false, "values": [0,5,10,15,20,25,30], "tickSize": 8}},
       "y": {"field": "depth", "type": "quantitative", "scale": {"domain": [0, 14], "nice": false, "zero": false, "reverse": true},
             "axis": {"orient": "left", "title": "Depth (m)", "labelOverlap": false, "values": [0,2,4,6,8,10,12,14],
                      "labelExpr": "datum.value % 4 == 0 && datum.value < 14 ? datum.label : ''", "tickSize": 7}}
     }},
    {"data": {"name": "sites"}, "transform": [{"filter": "datum.site === 'AC3'"}],
     "mark": {"type": "point", "shape": "M-1,-1L1,1M-1,1L1,-1", "filled": false, "color": "#5b9a3c", "strokeWidth": 2, "size": 90, "opacity": 1},
     "encoding": {"x": {"field": "temp", "type": "quantitative"}, "y": {"field": "depth", "type": "quantitative"}}},
    {"data": {"name": "sites"}, "transform": [{"filter": "datum.site === 'LVG4'"}],
     "mark": {"type": "point", "shape": "diamond", "filled": true, "color": "#1d2b6b", "size": 40, "opacity": 1},
     "encoding": {"x": {"field": "temp", "type": "quantitative"}, "y": {"field": "depth", "type": "quantitative"}}},
    {"data": {"name": "sites"}, "transform": [{"filter": "datum.site === 'RD2'"}],
     "mark": {"type": "point", "shape": "M-1,0L1,0M0,-1L0,1", "filled": false, "color": "#1d2b6b", "strokeWidth": 2, "size": 100, "opacity": 1},
     "encoding": {"x": {"field": "temp", "type": "quantitative"}, "y": {"field": "depth", "type": "quantitative"}}},
    {"data": {"values": [{}]}, "mark": {"type": "rect", "fill": "white", "stroke": "black", "strokeWidth": 2},
     "encoding": {"x": {"datum": 0}, "x2": {"datum": 1.67}, "y": {"datum": 0}, "y2": {"datum": 1.85}}},
    {"data": {"values": [{}]}, "mark": {"type": "text", "color": "#333", "fontSize": 17},
     "encoding": {"x": {"datum": 0.83}, "y": {"datum": 0.93}, "text": {"value": "E"}}},
    {"data": {"values": [{}]}, "mark": {"type": "text", "color": "#333", "fontSize": 17},
     "encoding": {"x": {"datum": 14.98}, "y": {"datum": 1.92}, "text": {"value": "Depth vs ABWT Range"}}},
    {"data": {"values": [{}]}, "mark": {"type": "text", "color": "#222", "fontSize": 18},
     "encoding": {"x": {"datum": 5.0}, "y": {"datum": 6.2}, "text": {"value": "y = -0.22x + 11.67"}}},
    {"data": {"values": [{}]}, "mark": {"type": "text", "color": "#222", "fontSize": 18},
     "encoding": {"x": {"datum": 5.0}, "y": {"datum": 7.35}, "text": {"value": "R² = 0.73"}}},
    {"data": {"values": [{}]}, "mark": {"type": "text", "color": "#333", "fontSize": 17},
     "encoding": {"x": {"datum": 17.0}, "y": {"datum": 11.12}, "text": {"value": "South Arm Sites"}}},
    {"data": {"values": [{}]}, "mark": {"type": "text", "color": "#333", "fontSize": 17},
     "encoding": {"x": {"datum": 25.06}, "y": {"datum": 11.12}, "text": {"value": "North Arm Sites"}}},
    {"data": {"values": [{}]}, "mark": {"type": "rule", "color": "#333", "strokeWidth": 1.2},
     "encoding": {"x": {"datum": 13.34}, "x2": {"datum": 20.66}, "y": {"datum": 11.7}}},
    {"data": {"values": [{}]}, "mark": {"type": "rule", "color": "#333", "strokeWidth": 1.2},
     "encoding": {"x": {"datum": 21.5}, "x2": {"datum": 28.58}, "y": {"datum": 11.7}}},
    {"data": {"values": [{}]}, "mark": {"type": "point", "shape": "circle", "filled": true, "color": "#5b9a3c", "size": 60, "opacity": 1},
     "encoding": {"x": {"datum": 14.1}, "y": {"datum": 12.53}}},
    {"data": {"values": [{}]}, "mark": {"type": "point", "shape": "M-1,-1L1,1M-1,1L1,-1", "filled": false, "color": "#5b9a3c", "strokeWidth": 2, "size": 90, "opacity": 1},
     "encoding": {"x": {"datum": 18.2}, "y": {"datum": 12.53}}},
    {"data": {"values": [{}]}, "mark": {"type": "point", "shape": "diamond", "filled": true, "color": "#1d2b6b", "size": 40, "opacity": 1},
     "encoding": {"x": {"datum": 22.3}, "y": {"datum": 12.53}}},
    {"data": {"values": [{}]}, "mark": {"type": "point", "shape": "M-1,0L1,0M0,-1L0,1", "filled": false, "color": "#1d2b6b", "strokeWidth": 2, "size": 100, "opacity": 1},
     "encoding": {"x": {"datum": 26.9}, "y": {"datum": 12.53}}},
    {"data": {"values": [{}]}, "mark": {"type": "text", "color": "#333", "fontSize": 17, "align": "left"},
     "encoding": {"x": {"datum": 14.6}, "y": {"datum": 12.53}, "text": {"value": "AS2"}}},
    {"data": {"values": [{}]}, "mark": {"type": "text", "color": "#333", "fontSize": 17, "align": "left"},
     "encoding": {"x": {"datum": 18.8}, "y": {"datum": 12.53}, "text": {"value": "AC3"}}},
    {"data": {"values": [{}]}, "mark": {"type": "text", "color": "#333", "fontSize": 17, "align": "left"},
     "encoding": {"x": {"datum": 22.9}, "y": {"datum": 12.53}, "text": {"value": "LVG4"}}},
    {"data": {"values": [{}]}, "mark": {"type": "text", "color": "#333", "fontSize": 17, "align": "left"},
     "encoding": {"x": {"datum": 27.45}, "y": {"datum": 12.53}, "text": {"value": "RD2"}}}
   ]},
   {"layer": [
    {"data": {"name": "sites"}, "mark": {"type": "point", "opacity": 0},
     "encoding": {
       "x": {"field": "temp", "type": "quantitative", "scale": {"domain": [0, 30], "nice": false, "zero": false},
             "axis": {"orient": "bottom", "labels": false, "title": null, "tickSize": 4, "values": [1,2,3,4,6,7,8,9,11,12,13,14,16,17,18,19,21,22,23,24,26,27,28,29]}}
     }}
   ]}
  ]
}
]
}
